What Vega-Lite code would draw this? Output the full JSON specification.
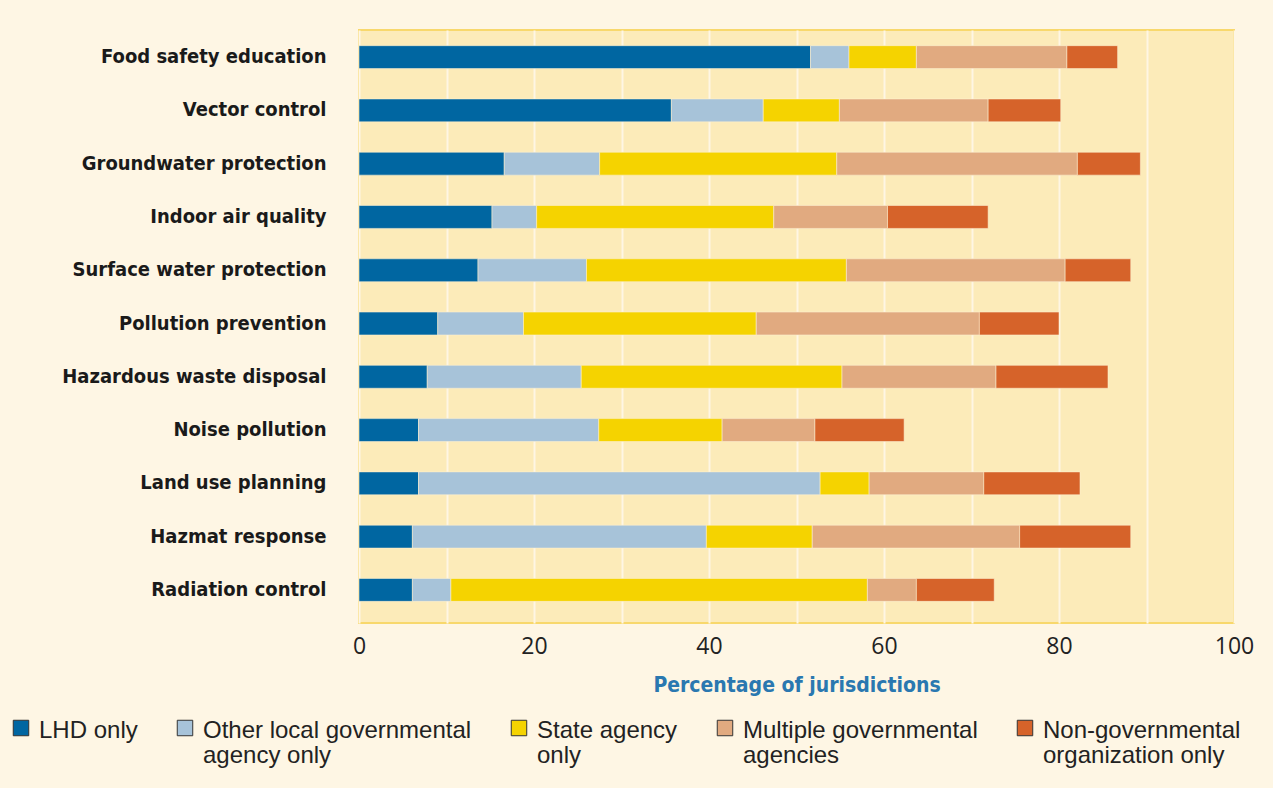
{
  "$schema": "https://vega.github.io/schema/vega-lite/v6.json",
  "width": 875,
  "height": 593,
  "autosize": {"type": "none"},
  "padding": {"left": 359, "top": 30, "right": 39, "bottom": 165},
  "background": "#fef6e4",
  "config": {
    "view": {"fill": "#fcebb9", "stroke": "#f8d86c", "strokeWidth": 2}
  },
  "data": {
    "values": [
      {"task": "Food safety education", "source": "LHD only", "o": 1, "pct": 51.6},
      {"task": "Food safety education", "source": "Other local governmental agency only", "o": 2, "pct": 4.4},
      {"task": "Food safety education", "source": "State agency only", "o": 3, "pct": 7.7},
      {"task": "Food safety education", "source": "Multiple governmental agencies", "o": 4, "pct": 17.2},
      {"task": "Food safety education", "source": "Non-governmental organization only", "o": 5, "pct": 5.8},
      {"task": "Vector control", "source": "LHD only", "o": 1, "pct": 35.7},
      {"task": "Vector control", "source": "Other local governmental agency only", "o": 2, "pct": 10.5},
      {"task": "Vector control", "source": "State agency only", "o": 3, "pct": 8.7},
      {"task": "Vector control", "source": "Multiple governmental agencies", "o": 4, "pct": 17.0},
      {"task": "Vector control", "source": "Non-governmental organization only", "o": 5, "pct": 8.3},
      {"task": "Groundwater protection", "source": "LHD only", "o": 1, "pct": 16.6},
      {"task": "Groundwater protection", "source": "Other local governmental agency only", "o": 2, "pct": 10.9},
      {"task": "Groundwater protection", "source": "State agency only", "o": 3, "pct": 27.1},
      {"task": "Groundwater protection", "source": "Multiple governmental agencies", "o": 4, "pct": 27.5},
      {"task": "Groundwater protection", "source": "Non-governmental organization only", "o": 5, "pct": 7.2},
      {"task": "Indoor air quality", "source": "LHD only", "o": 1, "pct": 15.2},
      {"task": "Indoor air quality", "source": "Other local governmental agency only", "o": 2, "pct": 5.1},
      {"task": "Indoor air quality", "source": "State agency only", "o": 3, "pct": 27.1},
      {"task": "Indoor air quality", "source": "Multiple governmental agencies", "o": 4, "pct": 13.0},
      {"task": "Indoor air quality", "source": "Non-governmental organization only", "o": 5, "pct": 11.5},
      {"task": "Surface water protection", "source": "LHD only", "o": 1, "pct": 13.6},
      {"task": "Surface water protection", "source": "Other local governmental agency only", "o": 2, "pct": 12.4},
      {"task": "Surface water protection", "source": "State agency only", "o": 3, "pct": 29.7},
      {"task": "Surface water protection", "source": "Multiple governmental agencies", "o": 4, "pct": 25.0},
      {"task": "Surface water protection", "source": "Non-governmental organization only", "o": 5, "pct": 7.5},
      {"task": "Pollution prevention", "source": "LHD only", "o": 1, "pct": 9.0},
      {"task": "Pollution prevention", "source": "Other local governmental agency only", "o": 2, "pct": 9.8},
      {"task": "Pollution prevention", "source": "State agency only", "o": 3, "pct": 26.6},
      {"task": "Pollution prevention", "source": "Multiple governmental agencies", "o": 4, "pct": 25.5},
      {"task": "Pollution prevention", "source": "Non-governmental organization only", "o": 5, "pct": 9.1},
      {"task": "Hazardous waste disposal", "source": "LHD only", "o": 1, "pct": 7.8},
      {"task": "Hazardous waste disposal", "source": "Other local governmental agency only", "o": 2, "pct": 17.6},
      {"task": "Hazardous waste disposal", "source": "State agency only", "o": 3, "pct": 29.8},
      {"task": "Hazardous waste disposal", "source": "Multiple governmental agencies", "o": 4, "pct": 17.6},
      {"task": "Hazardous waste disposal", "source": "Non-governmental organization only", "o": 5, "pct": 12.8},
      {"task": "Noise pollution", "source": "LHD only", "o": 1, "pct": 6.8},
      {"task": "Noise pollution", "source": "Other local governmental agency only", "o": 2, "pct": 20.6},
      {"task": "Noise pollution", "source": "State agency only", "o": 3, "pct": 14.1},
      {"task": "Noise pollution", "source": "Multiple governmental agencies", "o": 4, "pct": 10.6},
      {"task": "Noise pollution", "source": "Non-governmental organization only", "o": 5, "pct": 10.2},
      {"task": "Land use planning", "source": "LHD only", "o": 1, "pct": 6.8},
      {"task": "Land use planning", "source": "Other local governmental agency only", "o": 2, "pct": 45.9},
      {"task": "Land use planning", "source": "State agency only", "o": 3, "pct": 5.6},
      {"task": "Land use planning", "source": "Multiple governmental agencies", "o": 4, "pct": 13.1},
      {"task": "Land use planning", "source": "Non-governmental organization only", "o": 5, "pct": 11.0},
      {"task": "Hazmat response", "source": "LHD only", "o": 1, "pct": 6.1},
      {"task": "Hazmat response", "source": "Other local governmental agency only", "o": 2, "pct": 33.6},
      {"task": "Hazmat response", "source": "State agency only", "o": 3, "pct": 12.1},
      {"task": "Hazmat response", "source": "Multiple governmental agencies", "o": 4, "pct": 23.7},
      {"task": "Hazmat response", "source": "Non-governmental organization only", "o": 5, "pct": 12.7},
      {"task": "Radiation control", "source": "LHD only", "o": 1, "pct": 6.1},
      {"task": "Radiation control", "source": "Other local governmental agency only", "o": 2, "pct": 4.4},
      {"task": "Radiation control", "source": "State agency only", "o": 3, "pct": 47.6},
      {"task": "Radiation control", "source": "Multiple governmental agencies", "o": 4, "pct": 5.6},
      {"task": "Radiation control", "source": "Non-governmental organization only", "o": 5, "pct": 8.9}
    ]
  },
  "mark": {"type": "bar", "stroke": "#fdf1d2", "strokeWidth": 0.8, "strokeOpacity": 0.7},
  "encoding": {
    "y": {
      "field": "task",
      "type": "nominal",
      "sort": null,
      "scale": {"paddingInner": 0.57, "paddingOuter": 0.35, "align": 0.42},
      "axis": {
        "title": null,
        "ticks": false,
        "domain": false,
        "labelPadding": 33,
        "labelFont": "DejaVu Sans Condensed",
        "labelFontWeight": "bold",
        "labelFontSize": 20,
        "labelColor": "#1a1a1a",
        "labelLimit": 400
      }
    },
    "x": {
      "field": "pct",
      "type": "quantitative",
      "stack": "zero",
      "scale": {"domain": [0, 100], "nice": false},
      "axis": {
        "values": [0, 10, 20, 30, 40, 50, 60, 70, 80, 90, 100],
        "labelExpr": "datum.value % 20 == 0 ? datum.label : ''",
        "title": "Percentage of jurisdictions",
        "titleFont": "DejaVu Sans Condensed",
        "titleFontWeight": "bold",
        "titleFontSize": 21,
        "titleColor": "#2a78b0",
        "titlePadding": 16,
        "ticks": false,
        "domain": false,
        "grid": true,
        "gridColor": "#fef6e4",
        "gridWidth": 2,
        "labelFont": "Open Sans",
        "labelFontSize": 23,
        "labelColor": "#222222",
        "labelPadding": 12,
        "labelFlush": false
      }
    },
    "order": {"field": "o", "type": "quantitative"},
    "color": {
      "field": "source",
      "type": "nominal",
      "scale": {
        "domain": ["LHD only", "Other local governmental agency only", "State agency only", "Multiple governmental agencies", "Non-governmental organization only"],
        "range": ["#0066a1", "#a7c3d9", "#f5d300", "#e1aa80", "#d6632a"]
      },
      "legend": {
        "title": null,
        "orient": "none",
        "legendX": -350,
        "legendY": 686,
        "direction": "horizontal",
        "columns": 5,
        "columnPadding": 35,
        "symbolType": "square",
        "symbolSize": 240,
        "symbolStrokeColor": "#333333",
        "symbolStrokeWidth": 1,
        "symbolOpacity": 1,
        "labelFont": "Liberation Sans",
        "labelFontSize": 24,
        "labelColor": "#222222",
        "labelLimit": 400,
        "labelBaseline": "top",
        "labelOffset": 6,
        "labelExpr": "datum.label == 'Other local governmental agency only' ? ['Other local governmental', 'agency only'] : datum.label == 'State agency only' ? ['State agency', 'only'] : datum.label == 'Multiple governmental agencies' ? ['Multiple governmental', 'agencies'] : datum.label == 'Non-governmental organization only' ? ['Non-governmental', 'organization only'] : [datum.label, ' ']",
        "encode": {
          "labels": {"update": {"dy": {"value": -9}, "lineHeight": {"value": 25}}}
        }
      }
    }
  }
}
